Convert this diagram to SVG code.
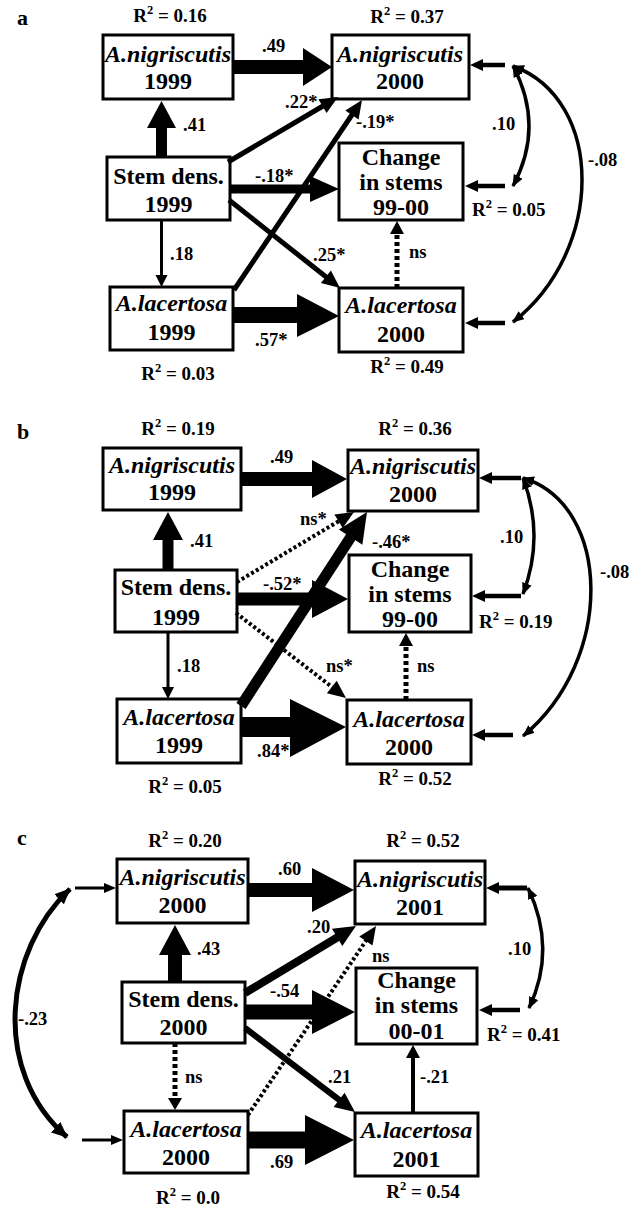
<svg xmlns="http://www.w3.org/2000/svg" width="641" height="1207" viewBox="0 0 641 1207">
<style>
text{font-family:"Liberation Serif","Times New Roman",serif;font-weight:bold;fill:#000}
.n{font-size:24px;text-anchor:middle}
.it{font-style:italic}
.r{font-size:19px;text-anchor:middle}
.rs{font-size:19px}
.l{font-size:18.5px}
.p{font-size:22px}
.box{fill:#fff;stroke:#000;stroke-width:3}
.s{stroke:#000;fill:none}
.h{fill:#000}
.c{stroke:#000;fill:none;stroke-width:3.5;marker-start:url(#ah);marker-end:url(#ah)}
.c2{stroke:#000;fill:none;stroke-width:5;marker-start:url(#ah2);marker-end:url(#ah2)}
.dash{stroke-dasharray:4 3}
.dot{stroke-dasharray:3 2.5}
</style>
<defs>
<marker id="ah" viewBox="0 0 12 10" refX="11" refY="5" markerWidth="12" markerHeight="10" markerUnits="userSpaceOnUse" orient="auto-start-reverse"><path d="M0,0 L12,5 L0,10 z"/></marker>
<marker id="ah2" viewBox="0 0 16 14" refX="15" refY="7" markerWidth="16" markerHeight="14" markerUnits="userSpaceOnUse" orient="auto-start-reverse"><path d="M0,0 L16,7 L0,14 z"/></marker>
</defs>

<!-- panel labels -->
<text class="p" x="17" y="25">a</text>
<text class="p" x="17" y="439">b</text>
<text class="p" x="17" y="845">c</text>

<!-- ===== Panel a nodes ===== -->
<g id="a-nig99">
<rect class="box" x="103" y="35" width="130" height="64"/>
<text class="n it" x="168" y="62">A.nigriscutis</text>
<text class="n" x="168" y="89">1999</text>
<text class="r" x="170" y="22">R<tspan font-size="12.5" dy="-8">2</tspan><tspan dy="8"> = 0.16</tspan></text>
</g>
<g id="a-nig00">
<rect class="box" x="332" y="35" width="137" height="64"/>
<text class="n it" x="400" y="62">A.nigriscutis</text>
<text class="n" x="400" y="89">2000</text>
<text class="r" x="407" y="23">R<tspan font-size="12.5" dy="-8">2</tspan><tspan dy="8"> = 0.37</tspan></text>
</g>
<g id="a-stem">
<rect class="box" x="107" y="157" width="123" height="63"/>
<text class="n" x="168.5" y="184">Stem dens.</text>
<text class="n" x="168.5" y="212">1999</text>
</g>
<g id="a-change">
<rect class="box" x="339" y="143" width="124" height="77"/>
<text class="n" x="401" y="165">Change</text>
<text class="n" x="401" y="190">in stems</text>
<text class="n" x="401" y="215">99-00</text>
<text class="rs" x="472" y="216">R<tspan font-size="12.5" dy="-8">2</tspan><tspan dy="8"> = 0.05</tspan></text>
</g>
<g id="a-lac99">
<rect class="box" x="110" y="287" width="123" height="63"/>
<text class="n it" x="171.5" y="311">A.lacertosa</text>
<text class="n" x="171.5" y="340">1999</text>
<text class="r" x="178" y="380">R<tspan font-size="12.5" dy="-8">2</tspan><tspan dy="8"> = 0.03</tspan></text>
</g>
<g id="a-lac00">
<rect class="box" x="339" y="288" width="124" height="64"/>
<text class="n it" x="401" y="313">A.lacertosa</text>
<text class="n" x="401" y="342">2000</text>
<text class="r" x="407" y="373">R<tspan font-size="12.5" dy="-8">2</tspan><tspan dy="8"> = 0.49</tspan></text>
</g>

<!-- ===== Panel b nodes ===== -->
<g id="b-nig99">
<rect class="box" x="103" y="448" width="138" height="62"/>
<text class="n it" x="172" y="473">A.nigriscutis</text>
<text class="n" x="172" y="500">1999</text>
<text class="r" x="178" y="435">R<tspan font-size="12.5" dy="-8">2</tspan><tspan dy="8"> = 0.19</tspan></text>
</g>
<g id="b-nig00">
<rect class="box" x="348" y="450" width="130" height="61"/>
<text class="n it" x="413" y="474">A.nigriscutis</text>
<text class="n" x="413" y="502">2000</text>
<text class="r" x="415" y="435">R<tspan font-size="12.5" dy="-8">2</tspan><tspan dy="8"> = 0.36</tspan></text>
</g>
<g id="b-stem">
<rect class="box" x="115" y="570" width="122" height="62"/>
<text class="n" x="176" y="595">Stem dens.</text>
<text class="n" x="176" y="625">1999</text>
</g>
<g id="b-change">
<rect class="box" x="349" y="555" width="122" height="77"/>
<text class="n" x="410" y="577">Change</text>
<text class="n" x="410" y="602">in stems</text>
<text class="n" x="410" y="627">99-00</text>
<text class="rs" x="479" y="628">R<tspan font-size="12.5" dy="-8">2</tspan><tspan dy="8"> = 0.19</tspan></text>
</g>
<g id="b-lac99">
<rect class="box" x="117" y="699" width="124" height="64"/>
<text class="n it" x="179" y="725">A.lacertosa</text>
<text class="n" x="179" y="753">1999</text>
<text class="r" x="185" y="793">R<tspan font-size="12.5" dy="-8">2</tspan><tspan dy="8"> = 0.05</tspan></text>
</g>
<g id="b-lac00">
<rect class="box" x="347" y="700" width="124" height="64"/>
<text class="n it" x="409" y="727">A.lacertosa</text>
<text class="n" x="409" y="755">2000</text>
<text class="r" x="415" y="785">R<tspan font-size="12.5" dy="-8">2</tspan><tspan dy="8"> = 0.52</tspan></text>
</g>

<!-- ===== Panel c nodes ===== -->
<g id="c-nig00">
<rect class="box" x="117" y="859" width="131" height="64"/>
<text class="n it" x="182.5" y="885">A.nigriscutis</text>
<text class="n" x="182.5" y="913">2000</text>
<text class="r" x="185" y="847">R<tspan font-size="12.5" dy="-8">2</tspan><tspan dy="8"> = 0.20</tspan></text>
</g>
<g id="c-nig01">
<rect class="box" x="355" y="861" width="130" height="63"/>
<text class="n it" x="420" y="887">A.nigriscutis</text>
<text class="n" x="420" y="915">2001</text>
<text class="r" x="423" y="847">R<tspan font-size="12.5" dy="-8">2</tspan><tspan dy="8"> = 0.52</tspan></text>
</g>
<g id="c-stem">
<rect class="box" x="122" y="982" width="123" height="61"/>
<text class="n" x="183.5" y="1007">Stem dens.</text>
<text class="n" x="183.5" y="1035">2000</text>
</g>
<g id="c-change">
<rect class="box" x="356" y="968" width="121" height="76"/>
<text class="n" x="416.5" y="988">Change</text>
<text class="n" x="416.5" y="1013">in stems</text>
<text class="n" x="416.5" y="1039">00-01</text>
<text class="rs" x="487" y="1041">R<tspan font-size="12.5" dy="-8">2</tspan><tspan dy="8"> = 0.41</tspan></text>
</g>
<g id="c-lac00">
<rect class="box" x="124" y="1111" width="124" height="62"/>
<text class="n it" x="186" y="1137">A.lacertosa</text>
<text class="n" x="186" y="1165">2000</text>
<text class="r" x="188" y="1204">R<tspan font-size="12.5" dy="-8">2</tspan><tspan dy="8"> = 0.0</tspan></text>
</g>
<g id="c-lac01">
<rect class="box" x="355" y="1113" width="123" height="63"/>
<text class="n it" x="416.5" y="1138">A.lacertosa</text>
<text class="n" x="416.5" y="1167">2001</text>
<text class="r" x="423" y="1198">R<tspan font-size="12.5" dy="-8">2</tspan><tspan dy="8"> = 0.54</tspan></text>
</g>

<!-- ===== Connectors ===== -->
<g id="connectors">
<!-- panel a -->
<line class="s" x1="161.5" y1="157" x2="161.5" y2="127" stroke-width="11"/>
<polygon class="h" points="161.5,101 147,128 176,128"/>
<line class="s" x1="233" y1="67" x2="304" y2="67" stroke-width="14"/>
<polygon class="h" points="303,48 303,86 332,67"/>
<line class="s" x1="161.5" y1="220" x2="161.5" y2="276" stroke-width="3"/>
<polygon class="h" points="155.5,275 167.5,275 161.5,287"/>
<line class="s" x1="233" y1="315" x2="298" y2="315" stroke-width="16"/>
<polygon class="h" points="297,294 297,337 339,316"/>
<line class="s dash" x1="397" y1="288" x2="397" y2="233" stroke-width="5"/>
<polygon class="h" points="390,234 404,234 397,221"/>
<line class="s" x1="230" y1="189" x2="311" y2="189" stroke-width="9"/>
<polygon class="h" points="310,176 310,202 339,189"/>
<line class="s" x1="228" y1="162" x2="323" y2="106" stroke-width="5"/>
<polygon class="h" points="338,97 326.6,113 318.4,99.3"/>
<line class="s" x1="234" y1="290" x2="352.5" y2="114" stroke-width="5"/>
<polygon class="h" points="362,100 358.6,119.4 345.3,110.5"/>
<line class="s" x1="229" y1="200" x2="326.5" y2="277.3" stroke-width="5"/>
<polygon class="h" points="340,288 320.9,283.1 330.9,270.6"/>
<text class="l" x="262" y="52">.49</text>
<text class="l" x="285" y="108">.22*</text>
<text class="l" x="183" y="131">.41</text>
<text class="l" x="356" y="128">-.19*</text>
<text class="l" x="255" y="182">-.18*</text>
<text class="l" x="170" y="260">.18</text>
<text class="l" x="313" y="261">.25*</text>
<text class="l" x="409" y="258">ns</text>
<text class="l" x="255" y="346">.57*</text>
<!-- a right side -->
<line class="s" x1="505" y1="65" x2="480" y2="65" stroke-width="4.5"/>
<polygon class="h" points="470,65 483,59 483,71"/>
<line class="s" x1="505" y1="186" x2="475" y2="186" stroke-width="4.5"/>
<polygon class="h" points="465,186 478,180 478,192"/>
<line class="s" x1="505" y1="323" x2="475" y2="323" stroke-width="4.5"/>
<polygon class="h" points="465,323 478,317 478,329"/>
<path class="c" d="M513,66 Q545,126 513,186"/>
<path class="c" d="M513,66 C605,100 605,250 513,322"/>
<text class="l" x="492" y="130">.10</text>
<text class="l" x="588" y="166">-.08</text>

<!-- panel b -->
<line class="s" x1="168" y1="570" x2="168" y2="539" stroke-width="11"/>
<polygon class="h" points="168,512 153,540 183,540"/>
<line class="s" x1="241" y1="479" x2="313" y2="479" stroke-width="14"/>
<polygon class="h" points="312,460 312,498 347,479"/>
<line class="s" x1="168" y1="632" x2="168" y2="688" stroke-width="3"/>
<polygon class="h" points="162,687 174,687 168,699"/>
<line class="s" x1="241" y1="727" x2="291" y2="727" stroke-width="20"/>
<polygon class="h" points="290,699 290,757 346,727"/>
<line class="s dash" x1="406" y1="700" x2="406" y2="646" stroke-width="5"/>
<polygon class="h" points="399,646 413,646 406,633"/>
<line class="s" x1="237" y1="599" x2="313" y2="599" stroke-width="13"/>
<polygon class="h" points="312,580 312,618 348,599"/>
<line class="s dot" x1="237" y1="582" x2="339" y2="521" stroke-width="4"/>
<polygon class="h" points="354,512 342.7,528.1 334.4,514.4"/>
<line class="s dot" x1="236" y1="613" x2="332" y2="687" stroke-width="4"/>
<polygon class="h" points="346,698 326.9,693.3 336.7,680.7"/>
<line class="s" x1="241" y1="706" x2="351.5" y2="536" stroke-width="11"/>
<polygon class="h" points="367,512 362.4,544.8 338.9,529.5"/>
<text class="l" x="270" y="463">.49</text>
<text class="l" x="300" y="525">ns*</text>
<text class="l" x="190" y="547">.41</text>
<text class="l" x="372" y="548">-.46*</text>
<text class="l" x="263" y="590">-.52*</text>
<text class="l" x="177" y="672">.18</text>
<text class="l" x="326" y="672">ns*</text>
<text class="l" x="417" y="672">ns</text>
<text class="l" x="257" y="757">.84*</text>
<!-- b right side -->
<line class="s" x1="521" y1="478" x2="489" y2="478" stroke-width="4.5"/>
<polygon class="h" points="479,478 492,472 492,484"/>
<line class="s" x1="521" y1="596" x2="483" y2="596" stroke-width="4.5"/>
<polygon class="h" points="472,596 485,590 485,602"/>
<line class="s" x1="513" y1="735" x2="483" y2="735" stroke-width="4.5"/>
<polygon class="h" points="472,735 485,729 485,741"/>
<path class="c" d="M523,478 Q545,536 523,594"/>
<path class="c" d="M523,478 C612,505 615,660 523,736"/>
<text class="l" x="500" y="543">.10</text>
<text class="l" x="600" y="578">-.08</text>

<!-- panel c -->
<line class="s" x1="175" y1="982" x2="175" y2="954" stroke-width="14"/>
<polygon class="h" points="175,925 159,955 191,955"/>
<line class="s" x1="248" y1="890" x2="313" y2="890" stroke-width="14"/>
<polygon class="h" points="312,868 312,912 354,890"/>
<line class="s" x1="245" y1="1012" x2="313" y2="1012" stroke-width="15"/>
<polygon class="h" points="312,990 312,1034 355,1012"/>
<line class="s" x1="245" y1="993" x2="338" y2="937" stroke-width="8"/>
<polygon class="h" points="356,926 342.3,945.9 332,928.8"/>
<line class="s dot" x1="248" y1="1115" x2="366.5" y2="940" stroke-width="4"/>
<polygon class="h" points="376,926 372.5,945.4 359.3,936.4"/>
<line class="s" x1="245" y1="1028" x2="340" y2="1100.5" stroke-width="6"/>
<polygon class="h" points="355,1112 333.6,1107 344.6,1092.7"/>
<line class="s dash" x1="175" y1="1043" x2="175" y2="1099" stroke-width="5"/>
<polygon class="h" points="168,1098 182,1098 175,1110"/>
<line class="s" x1="248" y1="1140" x2="306" y2="1140" stroke-width="17"/>
<polygon class="h" points="305,1115 305,1165 354,1140"/>
<line class="s" x1="413" y1="1113" x2="413" y2="1057" stroke-width="4"/>
<polygon class="h" points="406,1058 420,1058 413,1045"/>
<text class="l" x="278" y="875">.60</text>
<text class="l" x="307" y="933">.20</text>
<text class="l" x="197" y="955">.43</text>
<text class="l" x="372" y="962">ns</text>
<text class="l" x="270" y="997">-.54</text>
<text class="l" x="185" y="1083">ns</text>
<text class="l" x="328" y="1083">.21</text>
<text class="l" x="420" y="1083">-.21</text>
<text class="l" x="270" y="1168">.69</text>
<!-- c right side -->
<line class="s" x1="527" y1="888" x2="497" y2="888" stroke-width="5"/>
<polygon class="h" points="486,888 499,882 499,894"/>
<line class="s" x1="520" y1="1010" x2="490" y2="1010" stroke-width="4.5"/>
<polygon class="h" points="479,1010 492,1004 492,1016"/>
<path class="c" d="M528,888 Q557,949 529,1008"/>
<text class="l" x="508" y="955">.10</text>
<!-- c left side -->
<line class="s" x1="75" y1="888" x2="106" y2="888" stroke-width="3"/>
<polygon class="h" points="116,888 104,883 104,893"/>
<line class="s" x1="82" y1="1140" x2="112" y2="1140" stroke-width="3"/>
<polygon class="h" points="123,1140 111,1135 111,1145"/>
<path class="c2" d="M70,889 C5,950 -10,1070 67,1137"/>
<text class="l" x="18" y="1025">-.23</text>
</g>
</svg>
